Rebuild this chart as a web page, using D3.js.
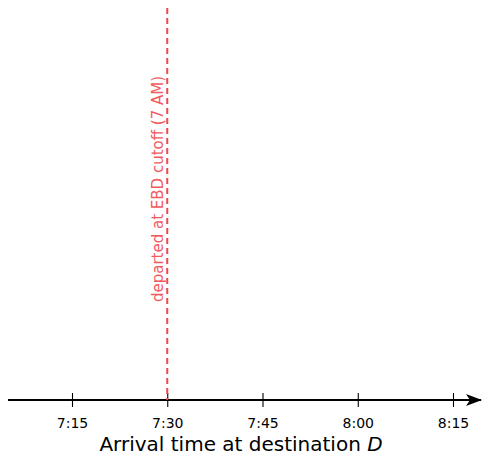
<!DOCTYPE html>
<html>
<head>
<meta charset="utf-8">
<script src="https://cdn.jsdelivr.net/npm/d3@7"></script>
<style>
  html, body { margin: 0; padding: 0; background: #fff; }
  svg { display: block; font-family: "DejaVu Sans", sans-serif; }
</style>
</head>
<body>
<svg id="chart" width="484" height="456"></svg>
<script>
// Arrival times (minutes after midnight) shown as ticks along the axis
const tickMinutes = [435, 450, 465, 480, 495];
const tickLabels = ["7:15", "7:30", "7:45", "8:00", "8:15"];
// Marker for the latest arrival when departing at the EBD cutoff
const cutoffArrival = [450];
const cutoffLabel = ["departed at EBD cutoff (7 AM)"];

const svg = d3.select("#chart");
const axisY = 400;

const x = d3.scaleLinear()
  .domain([435, 495])
  .range([72, 453]);

const xStart = 8, xEnd = 484;

// Main axis line with arrowhead
svg.append("defs").append("marker")
  .attr("id", "arrow")
  .attr("viewBox", "0 0 16 12")
  .attr("refX", 15).attr("refY", 6)
  .attr("markerWidth", 16).attr("markerHeight", 12)
  .attr("markerUnits", "userSpaceOnUse")
  .attr("orient", "auto")
  .append("path")
  .attr("d", "M0,0 L16,6 L0,12 L4,6 Z")
  .attr("fill", "#000");

svg.append("line")
  .attr("x1", xStart).attr("x2", xEnd - 3)
  .attr("y1", axisY).attr("y2", axisY)
  .attr("stroke", "#000").attr("stroke-width", 2)
  .attr("marker-end", "url(#arrow)");

// Ticks and labels via d3 axis
const axis = d3.axisBottom(x)
  .tickValues(tickMinutes)
  .tickFormat((d, i) => tickLabels[i])
  .tickSize(0)
  .tickPadding(18);

const g = svg.append("g")
  .attr("transform", `translate(0,${axisY})`)
  .call(axis)
  .attr("font-size", 14)
  .attr("font-family", "DejaVu Sans, sans-serif");
g.select(".domain").remove();
g.selectAll(".tick text").attr("fill", "#000");
g.selectAll(".tick").append("line")
  .attr("y1", -7).attr("y2", 7)
  .attr("stroke", "#000").attr("stroke-width", 1.1);

// Dashed cutoff line
svg.selectAll(".cutoff")
  .data(cutoffArrival)
  .join("line")
  .attr("class", "cutoff")
  .attr("x1", d => x(d)).attr("x2", d => x(d))
  .attr("y1", 8).attr("y2", axisY)
  .attr("stroke", "#f0474b").attr("stroke-width", 2)
  .attr("stroke-dasharray", "6,4");

svg.selectAll(".cutoff-label")
  .data(cutoffArrival)
  .join("text")
  .attr("class", "cutoff-label")
  .attr("transform", d => `translate(${x(d) - 4},189) rotate(-90)`)
  .attr("text-anchor", "middle")
  .attr("font-size", 15)
  .attr("fill", "#f25a5d")
  .text(cutoffLabel[0]);

// Axis title
const title = svg.append("text")
  .attr("x", 241).attr("y", 451)
  .attr("text-anchor", "middle")
  .attr("font-size", 20)
  .attr("fill", "#000");
title.append("tspan").text("Arrival time at destination ");
title.append("tspan").attr("font-style", "italic").text("D");
</script>
</body>
</html>
